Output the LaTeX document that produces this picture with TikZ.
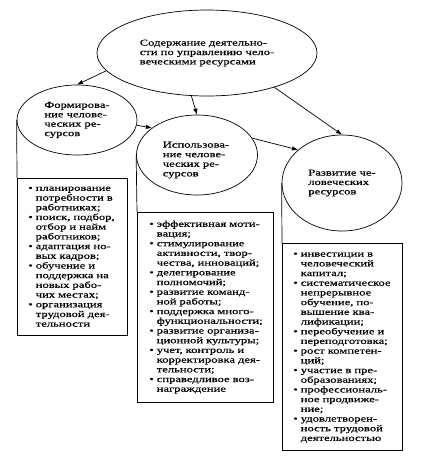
\documentclass[tikz,border=0pt]{standalone}
\usepackage{fontspec}
\setmainfont{Liberation Serif}[FakeStretch=1.4,FakeBold=0.4]
\usetikzlibrary{shapes.geometric,arrows.meta}
\tikzset{
  ell/.style={draw,ellipse,inner sep=0pt,align=left,font=\fontsize{9}{9.4}\selectfont},
  etxt/.style={align=left,inner sep=0pt,font=\fontsize{9}{9.6}\selectfont},
  listbox/.style={draw,rectangle,anchor=north west,inner ysep=0pt,
    font=\fontsize{9}{9.7}\selectfont},
  arr/.style={-{Latex[length=6pt,width=4.5pt]}},
}
\newcommand{\blt}{\textbullet}
\renewcommand{\arraystretch}{1}
\begin{document}
\begin{tikzpicture}[x=1pt,y=-1pt,line width=0.7pt]
        \useasboundingbox (0,0) rectangle (427,467);
        % ellipses
        \node[ell,minimum width=220pt,minimum height=86pt] (cont) at (207,53)
          {Содержание деятельно-\\сти по управлению чело-\\веческими ресурсами};
        \node[ell,minimum width=120pt,minimum height=70pt] (form) at (77,120)
          {Формирова-\\ние челове-\\ческих ре-\\сурсов};
        \node[ell,minimum width=121pt,minimum height=80pt] (isp) at (197,155) {};
        \node[etxt] (tisp) at (196,160) {Использова-\\ние челове-\\ческих ре-\\сурсов};
        \node[ell,minimum width=120pt,minimum height=96pt] (razv) at (342,183)
          {Развитие че-\\ловеческих\\ресурсов};
        % lists
        \node[listbox,minimum width=110pt,minimum height=157pt,inner xsep=11pt,text width=88pt] (lform) at (17,178) {%
          \begin{tabular}{@{}l@{\hspace{3pt}}l@{}}
          \blt & планирование\\ & потребности в\\ & работниках;\\
          \blt & поиск, подбор,\\ & отбор и найм\\ & работников;\\
          \blt & адаптация но-\\ & вых кадров;\\
          \blt & обучение и\\ & поддержка на\\ & новых рабо-\\ & чих местах;\\
          \blt & организация\\ & трудовой дея-\\ & тельности
          \end{tabular}};
        \node[listbox,minimum width=136pt,minimum height=190pt,inner xsep=12pt,text width=112pt] (lisp) at (137,212) {%
          \begin{tabular}{@{}l@{\hspace{3pt}}l@{}}
          \blt & эффективная моти-\\ & вация;\\
          \blt & стимулирование\\ & активности, твор-\\ & чества, инноваций;\\
          \blt & делегирование\\ & полномочий;\\
          \blt & развитие команд-\\ & ной работы;\\
          \blt & поддержка много-\\ & функциональности;\\
          \blt & развитие организа-\\ & ционной культуры;\\
          \blt & учет, контроль и\\ & корректировка дея-\\ & тельности;\\
          \blt & справедливое воз-\\ & награждение
          \end{tabular}};
        \node[listbox,minimum width=120pt,minimum height=207pt,inner xsep=11pt,text width=98pt] (lrazv) at (282,243) {%
          \begin{tabular}{@{}l@{\hspace{3pt}}l@{}}
          \blt & инвестиции в\\ & человеческий\\ & капитал;\\
          \blt & систематическое\\ & непрерывное\\ & обучение, по-\\ & вышение ква-\\ & лификации;\\
          \blt & переобучение и\\ & переподготовка;\\
          \blt & рост компетен-\\ & ций;\\
          \blt & участие в пре-\\ & образованиях;\\
          \blt & профессиональ-\\ & ное продвиже-\\ & ние;\\
          \blt & удовлетворен-\\ & ность трудовой\\ & деятельностью
          \end{tabular}};
        % connectors
        \draw[arr] (cont.190)--(form.north);
        \draw[arr] (cont.250)--(isp.north);
        \draw[arr] (cont.333)--(razv.north);
        \draw[arr] (form.355)--(isp.149);
        \draw[arr] (isp.17)--(razv.143);
        \draw (form.west)--(lform.north west);
        \draw (isp.west)--(lisp.north west);
        \draw (razv.west)--(lrazv.north west);
    \end{tikzpicture}
\end{document}
